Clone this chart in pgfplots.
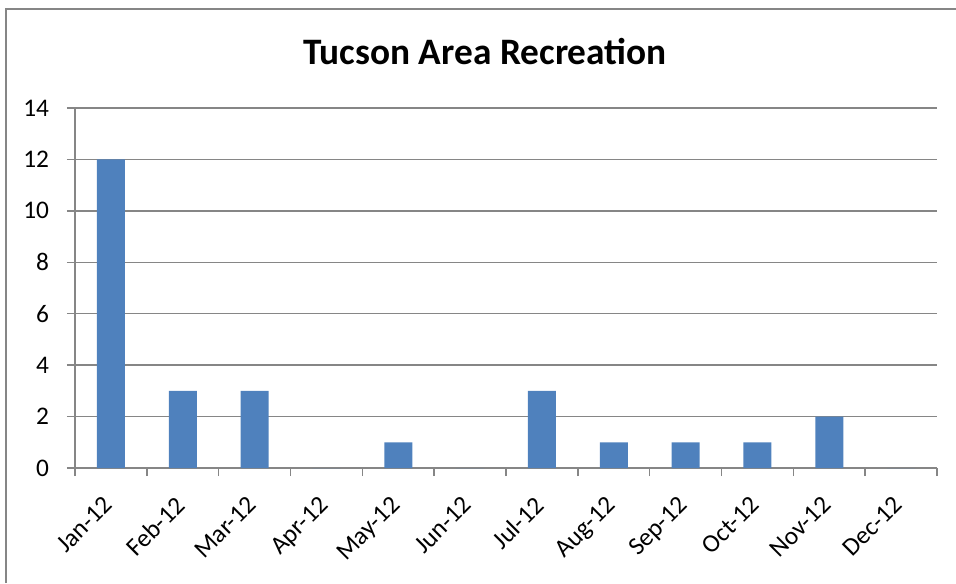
\documentclass[border=0pt]{standalone}
\usepackage{fontspec}
\setmainfont{Carlito}
\usepackage{pgfplots}
\pgfplotsset{compat=1.18}
\definecolor{barblue}{RGB}{79,129,189}
\definecolor{axgray}{RGB}{134,134,134}
\begin{document}
\begin{tikzpicture}
\useasboundingbox (0,0) rectangle (717pt,437.25pt);
\draw[axgray, line width=1.5pt] (4.5pt,0) -- (4.5pt,430.5pt) -- (717pt,430.5pt);
\node[font=\fontsize{28}{32}\selectfont\bfseries] at (363.75pt,398.25pt) {Tucson Area Recreation};
\begin{axis}[
  at={(56.25pt,86.25pt)}, anchor=south west,
  scale only axis, width=646.5pt, height=270pt,
  xmin=-0.5, xmax=11.5, ymin=0, ymax=14,
  ytick={0,2,...,14},
  xtick={-0.5,0.5,...,11.5},
  xticklabels={},
  extra x ticks={0,1,2,3,4,5,6,7,8,9,10,11},
  extra x tick labels={Jan-12,Feb-12,Mar-12,Apr-12,May-12,Jun-12,Jul-12,Aug-12,Sep-12,Oct-12,Nov-12,Dec-12},
  extra x tick style={major tick length=0pt, xticklabel style={rotate=45, anchor=north east, xshift=-15.4pt, yshift=-6.1pt}},
  ymajorgrids,
  grid style={axgray, line width=1.1pt},
  axis line style={axgray, line width=1.1pt},
  axis x line*=bottom, axis y line*=left,
  tick style={axgray, line width=1.1pt},
  tick align=outside, major tick length=6pt,
  tick pos=left,
  ticklabel style={font=\fontsize{19}{22}\selectfont},
  yticklabel style={xshift=-10pt},
  /pgf/number format/assume math mode=true,
  ybar, bar width=21pt,
]
\addplot[fill=barblue, draw=none] coordinates {
(0,12) (1,3) (2,3) (3,0) (4,1) (5,0) (6,3) (7,1) (8,1) (9,1) (10,2) (11,0)};
\end{axis}
\end{tikzpicture}
\end{document}
